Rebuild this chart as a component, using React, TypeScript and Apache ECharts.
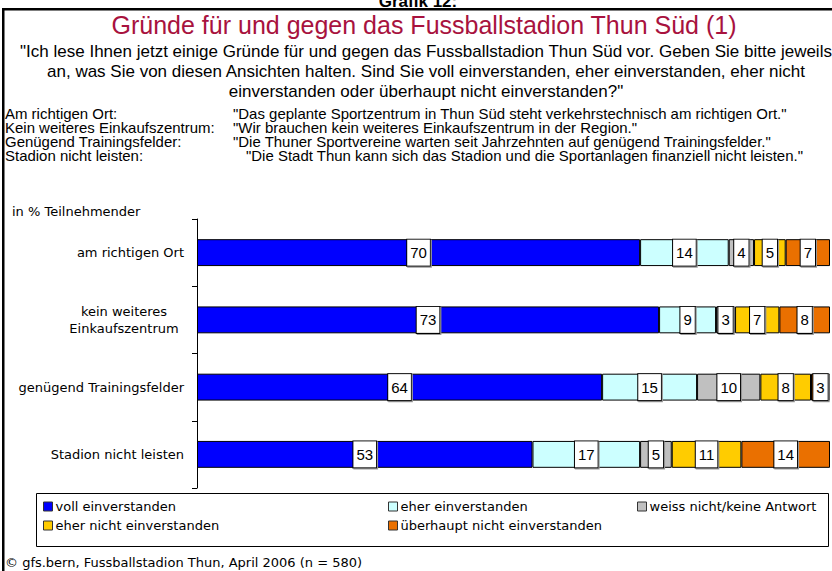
import React, { useEffect, useRef } from "react";
import * as echarts from "echarts";

const categories = [
  "am richtigen Ort",
  "kein weiteres\nEinkaufszentrum",
  "genügend Trainingsfelder",
  "Stadion nicht leisten",
];
const seriesNames = [
  "voll einverstanden",
  "eher einverstanden",
  "weiss nicht/keine Antwort",
  "eher nicht einverstanden",
  "überhaupt nicht einverstanden",
];
const vollEinverstanden = [70, 73, 64, 53];
const eherEinverstanden = [14, 9, 15, 17];
const weissNicht = [4, 3, 10, 5];
const eherNichtEinverstanden = [5, 7, 8, 11];
const ueberhauptNicht = [7, 8, 3, 14];

const colors = ["#0000FF", "#CCFFFF", "#C0C0C0", "#FFCC00", "#EA7000"];

const titleText = "Gründe für und gegen das Fussballstadion Thun Süd (1)";
const questionLines = [
  '"Ich lese Ihnen jetzt einige Gründe für und gegen das Fussballstadion Thun Süd vor. Geben Sie bitte jeweils',
  "an, was Sie von diesen Ansichten halten. Sind Sie voll einverstanden, eher einverstanden, eher nicht",
  'einverstanden oder überhaupt nicht einverstanden?"',
];
const defLabels = [
  "Am richtigen Ort:",
  "Kein weiteres Einkaufszentrum:",
  "Genügend Trainingsfelder:",
  "Stadion nicht leisten:",
];
const defTexts = [
  '"Das geplante Sportzentrum in Thun Süd steht verkehrstechnisch am richtigen Ort."',
  '"Wir brauchen kein weiteres Einkaufszentrum in der Region."',
  '"Die Thuner Sportvereine warten seit Jahrzehnten auf genügend Trainingsfelder."',
  '"Die Stadt Thun kann sich das Stadion und die Sportanlagen finanziell nicht leisten."',
];
const unitText = "in % Teilnehmender";
const footerText = "© gfs.bern, Fussballstadion Thun, April 2006 (n = 580)";

const NARROW = '"Liberation Sans", Arial, sans-serif';
const SANS = '"DejaVu Sans", Verdana, sans-serif';

export default function App() {
  const ref = useRef<HTMLDivElement>(null);
  useEffect(() => {
    if (!ref.current) return;
    const chart = echarts.init(ref.current, undefined, { renderer: "svg" });
    const dataSets = [
      vollEinverstanden,
      eherEinverstanden,
      weissNicht,
      eherNichtEinverstanden,
      ueberhauptNicht,
    ];
    const series = seriesNames.map((name, i) => ({
      name,
      type: "bar",
      stack: "total",
      barWidth: "40%",
      data: dataSets[i],
      itemStyle: { color: colors[i], borderColor: "#000", borderWidth: 1 },
      label: {
        show: true,
        position: "inside",
        formatter: "{c}",
        color: "#000",
        fontFamily: NARROW,
        fontSize: 15,
        lineHeight: 16,
        backgroundColor: "#fff",
        borderColor: "#000",
        borderWidth: 1,
        padding: [5, 3, 5, 3],
        shadowColor: "#999",
        shadowOffsetX: 1,
        shadowOffsetY: 1,
      },
    }));

    const legendPos = [
      [43, 500],
      [388, 500],
      [637, 500],
      [43, 519],
      [388, 519],
    ];
    const legends = seriesNames.map((n, i) => ({
      data: [n],
      left: legendPos[i][0],
      top: legendPos[i][1],
      padding: 0,
      icon: "rect",
      itemWidth: 9,
      itemHeight: 9,
      itemGap: 2,
      selectedMode: false,
      textStyle: { fontFamily: SANS, fontSize: 13, color: "#000", padding: [0, 0, 0, -2] },
      itemStyle: { borderColor: "#333", borderWidth: 1 },
    }));

    const graphics: any[] = [
      {
        type: "text",
        x: 418,
        y: 1,
        style: {
          text: "Grafik 12:",
          fontFamily: '"Liberation Sans", Arial, sans-serif',
          fontWeight: "bold",
          fontSize: 17,
          fill: "#000",
          align: "center",
          verticalAlign: "middle",
        },
      },
      { type: "rect", shape: { x: 2, y: 8, width: 830, height: 2.5 }, style: { fill: "#000" } },
      { type: "rect", shape: { x: 2, y: 8, width: 2.5, height: 563 }, style: { fill: "#000" } },
      {
        type: "text",
        x: 424,
        y: 25,
        style: {
          text: titleText,
          fontFamily: NARROW,
          fontSize: 25,
          fill: "#A8123E",
          align: "center",
          verticalAlign: "middle",
        },
      },
      ...questionLines.map((t, i) => ({
        type: "text",
        x: 426,
        y: 51 + i * 20,
        style: {
          text: t,
          fontFamily: NARROW,
          fontSize: 17,
          fill: "#000",
          align: "center",
          verticalAlign: "middle",
        },
      })),
      ...defLabels.map((t, i) => ({
        type: "text",
        x: 5,
        y: 114 + i * 14,
        scaleX: 1.07,
        style: { text: t, fontFamily: NARROW, fontSize: 14, fill: "#000", align: "left", verticalAlign: "middle" },
      })),
      ...defTexts.map((t, i) => ({
        type: "text",
        x: i === 3 ? 246 : 233,
        y: 114 + i * 14,
        scaleX: 1.07,
        style: { text: t, fontFamily: NARROW, fontSize: 14, fill: "#000", align: "left", verticalAlign: "middle" },
      })),
      {
        type: "text",
        x: 12,
        y: 211,
        style: { text: unitText, fontFamily: SANS, fontSize: 13, fill: "#000", align: "left", verticalAlign: "middle" },
      },
      {
        type: "rect",
        shape: { x: 36.5, y: 493.5, width: 792, height: 53 },
        style: { fill: "none", stroke: "#000", lineWidth: 1 },
      },
      {
        type: "text",
        x: 5,
        y: 562,
        style: { text: footerText, fontFamily: SANS, fontSize: 13, fill: "#000", align: "left", verticalAlign: "middle" },
      },
    ];

    chart.setOption({
      animation: false,
      backgroundColor: "#fff",
      grid: { left: 197, right: 2, top: 219, height: 269, containLabel: false },
      xAxis: { type: "value", min: 0, max: 100, show: false },
      yAxis: {
        type: "category",
        data: categories,
        inverse: true,
        axisLine: { show: true, lineStyle: { color: "#000", width: 1 } },
        axisTick: { show: true, inside: false, length: 5, lineStyle: { color: "#000" } },
        axisLabel: {
          margin: 13,
          color: "#000",
          fontFamily: SANS,
          fontSize: 13,
          lineHeight: 17,
          formatter: (v: string) =>
            v.includes("\n") ? v.split("\n").map((l) => `{c|${l}}`).join("\n") : v,
          rich: {
            c: { width: 120, align: "center", fontFamily: SANS, fontSize: 13, color: "#000", lineHeight: 17 },
          },
        },
        splitLine: { show: false },
      },
      legend: legends,
      series,
      graphic: graphics,
    });
    return () => chart.dispose();
  }, []);
  return (
    <div
      ref={ref}
      style={{ position: "absolute", left: 0, top: 0, width: 832, height: 571 }}
    />
  );
}
